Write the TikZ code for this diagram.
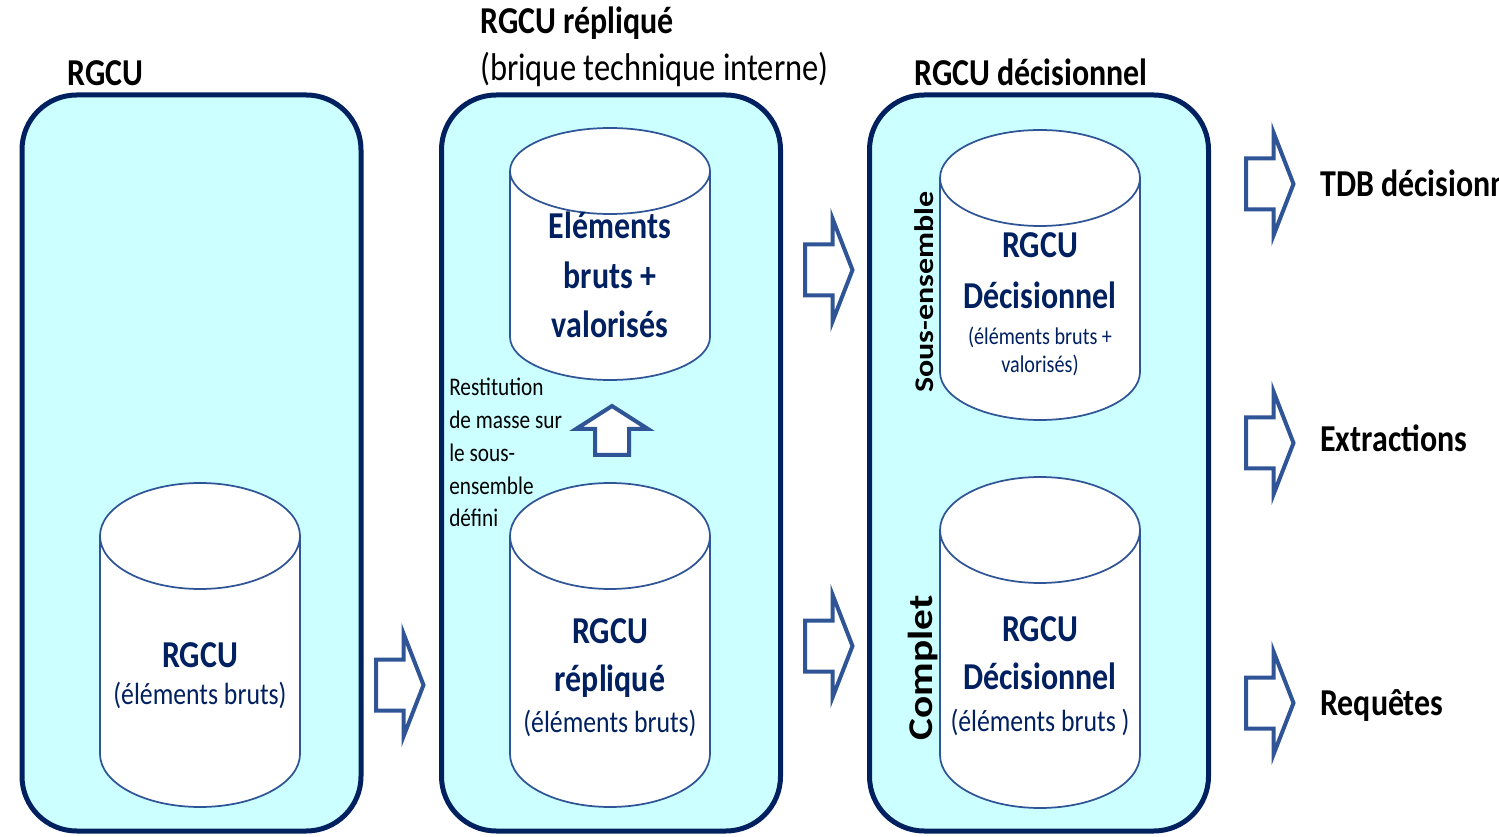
\documentclass[tikz,border=0pt]{standalone}
\usepackage{fontspec}
\setmainfont{Carlito}[FakeStretch=0.84]
\newfontfamily\rotfont{Carlito}
\definecolor{navy}{HTML}{002060}
\definecolor{midblue}{HTML}{2F5597}
\definecolor{panelfill}{HTML}{CCFFFF}
\tikzset{
  panel/.style={draw=navy, line width=3.75pt, fill=panelfill, rounded corners=41pt,
    minimum width=254.25pt, minimum height=552pt, inner sep=0pt},
  cylbody/.style={draw=midblue, line width=1.3pt, fill=white},
  cylrim/.style={draw=midblue, line width=1.3pt},
  blockarrow/.style={draw=midblue, line width=3pt, fill=white, line join=miter},
  titlebold/.style={font=\bfseries\fontsize{28.5}{34}\selectfont, anchor=base west, inner sep=0pt},
  titlereg/.style={font=\fontsize{29}{35}\selectfont, anchor=base west, inner sep=0pt},
  cyltitle/.style={font=\bfseries\fontsize{28.5}{34}\selectfont, text=navy, anchor=base, inner sep=0pt},
  cylsub/.style={font=\fontsize{23}{28}\selectfont, text=navy, anchor=base, inner sep=0pt},
  cylsmall/.style={font=\fontsize{18}{22}\selectfont, text=navy, anchor=base, inner sep=0pt},
  notetext/.style={font=\fontsize{19}{24}\selectfont, anchor=base west, inner sep=0pt},
  sidelabel/.style={rotate=90, yscale=0.84, inner sep=0pt},
  rarr/.pic={\draw[blockarrow] (0,25.5) -- (27.5,25.5) -- (27.5,51.5) -- (47.5,0) -- (27.5,-51.5) -- (27.5,-25.5) -- (0,-25.5) -- cycle;}
}
\newcommand\dbcyl[5]{% name, cx, top, bottom, ry
  \draw[cylbody] ({#2-100},{-#3-#5}) -- ({#2-100},{-#4+#5})
    arc[start angle=180, end angle=360, x radius=100, y radius=#5]
    -- ({#2+100},{-#3-#5})
    arc[start angle=0, end angle=180, x radius=100, y radius=#5] -- cycle;
  \draw[cylrim] ({#2-100},{-#3-#5}) arc[start angle=180, end angle=360, x radius=100, y radius=#5];
  \coordinate (#1) at (#2,{-(#3+#4)/2});
}
\begin{document}
\begin{tikzpicture}[x=0.75pt,y=0.75pt]
\useasboundingbox (0,0) rectangle (1499,-837);

% panels
\node[panel] (p1) at (191.5,-463) {};
\node[panel] (p2) at (611,-463) {};
\node[panel] (p3) at (1039,-463) {};

% titles
\node[titlebold] (t1) at (67,-86) {RGCU};
\node[titlebold] (t2a) at (480,-34) {RGCU répliqué};
\node[titlereg] (t2b) at (480,-81) {(brique technique interne)};
\node[titlebold] (t3) at (914,-86) {RGCU décisionnel};

% cylinders
\dbcyl{c1}{200}{483}{807}{53}
\dbcyl{c2a}{610}{128}{380}{43}
\dbcyl{c2b}{610}{483}{807}{53}
\dbcyl{c3a}{1040}{130}{420}{48}
\dbcyl{c3b}{1040}{477}{808}{53}

% cylinder texts
\node[cyltitle] (c1t) at (200,-667) {RGCU};
\node[cylsub] (c1s) at (200,-704) {(éléments bruts)};

\node[cyltitle] (c2a1) at (610,-239) {Eléments};
\node[cyltitle] (c2a2) at (610,-289) {bruts +};
\node[cyltitle] (c2a3) at (610,-338) {valorisés};

\node[cyltitle] (c2b1) at (610,-643) {RGCU};
\node[cyltitle] (c2b2) at (610,-691) {répliqué};
\node[cylsub] (c2b3) at (610,-732) {(éléments bruts)};

\node[cyltitle] (c3a1) at (1040,-258) {RGCU};
\node[cyltitle] (c3a2) at (1040,-309) {Décisionnel};
\node[cylsmall] (c3a3) at (1040,-345) {(éléments bruts +};
\node[cylsmall] (c3a4) at (1040,-373) {valorisés)};

\node[cyltitle] (c3b1) at (1040,-641) {RGCU};
\node[cyltitle] (c3b2) at (1040,-689) {Décisionnel};
\node[cylsub] (c3b3) at (1040,-731) {(éléments bruts )};

% side labels
\node[sidelabel, font=\rotfont\bfseries\fontsize{24}{28}\selectfont] (se) at (924,-292) {Sous-ensemble};
\node[sidelabel, font=\rotfont\bfseries\fontsize{31}{36}\selectfont] (cp) at (923,-668) {Complet};

% note
\node[notetext] (n1) at (449,-396) {Restitution};
\node[notetext] (n2) at (449,-429) {de masse sur};
\node[notetext] (n3) at (449,-462) {le sous-};
\node[notetext] (n4) at (449,-495) {ensemble};
\node[notetext] (n5) at (449,-527) {défini};

% up arrow
\draw[blockarrow] (595,-455) -- (595,-429) -- (576,-429) -- (612,-406) -- (648,-429) -- (629,-429) -- (629,-455) -- cycle;

% right arrows
\pic (a1) at (376,-685) {rarr};
\pic (a2) at (805,-270) {rarr};
\pic (a3) at (805,-646) {rarr};
\pic (a4) at (1246,-184) {rarr};
\pic (a5) at (1246,-443) {rarr};
\pic (a6) at (1246,-703) {rarr};

% outputs
\node[titlebold] (o1) at (1320,-197) {TDB décisionnel};
\node[titlebold] (o2) at (1320,-452) {Extractions};
\node[titlebold] (o3) at (1320,-715) {Requêtes};
\end{tikzpicture}
\end{document}
